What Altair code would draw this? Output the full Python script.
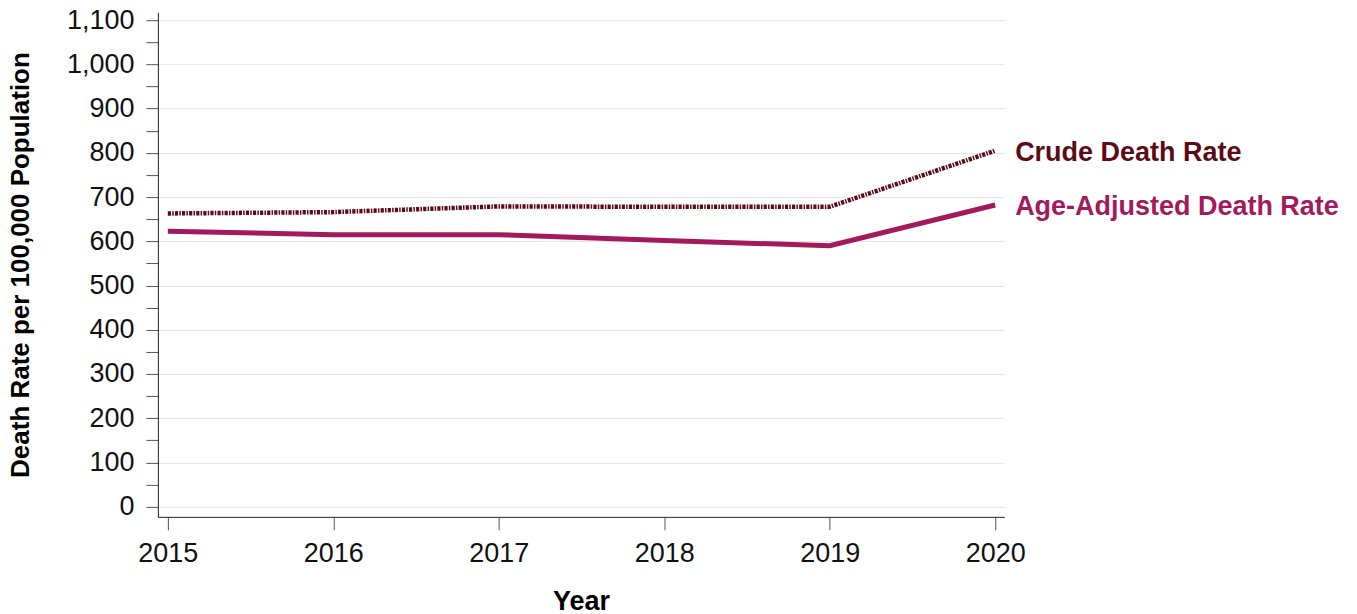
import altair as alt
import pandas as pd

years = [2015, 2016, 2017, 2018, 2019, 2020]
crude_rate = [663, 666, 679, 678, 678, 805]
age_adjusted_rate = [623, 615, 615, 602, 590, 682]
series_names = ["Crude Death Rate", "Age-Adjusted Death Rate"]
series_colors = ["#5c0b16", "#a3195b"]
y_tick_values = list(range(0, 1101, 50))

rows = []
for name, vals in zip(series_names, [crude_rate, age_adjusted_rate]):
    for yr, v in zip(years, vals):
        rows.append({"Year": yr, "Rate": v, "Series": name})
df = pd.DataFrame(rows)

color = alt.Color("Series:N", scale=alt.Scale(domain=series_names, range=series_colors), legend=None)

x = alt.X(
    "Year:Q",
    scale=alt.Scale(domain=[2014.94, 2020.055], nice=False, zero=False),
    axis=alt.Axis(
        values=years, format="d", title="Year", grid=False,
        labelFontSize=27, titleFontSize=27, titleFontWeight="bold",
        tickSize=13, labelPadding=11, titlePadding=22,
        domainColor="#222222", tickColor="#555555", labelColor="#111111",
        labelFlush=False,
    ),
)
y = alt.Y(
    "Rate:Q",
    scale=alt.Scale(domain=[-23, 1118], nice=False),
    axis=alt.Axis(
        values=y_tick_values,
        labelExpr="datum.value % 100 == 0 ? format(datum.value, ',') : ''",
        title="Death Rate per 100,000 Population",
        labelFontSize=27, titleFontSize=26, titleFontWeight="bold",
        tickSize=12,
        labelPadding=12, titlePadding=33,
        grid=True,
        gridColor="#e3e3e3",
        gridOpacity={"condition": {"test": "datum.value % 100 == 0", "value": 1}, "value": 0},
        domainColor="#222222", tickColor="#555555", labelColor="#111111",
    ),
)

base = alt.Chart(df)

crude_line = base.transform_filter(alt.datum.Series == series_names[0]).mark_line(
    strokeWidth=4.5, strokeDash=[3.2, 1.2, 1.5, 1.2]
).encode(x=x, y=y, color=color)

age_line = base.transform_filter(alt.datum.Series == series_names[1]).mark_line(
    strokeWidth=5
).encode(x=x, y=y, color=color)

labels = base.transform_filter(alt.datum.Year == years[-1]).mark_text(
    align="left", baseline="middle", dx=20, dy=2, fontSize=27, fontWeight="bold"
).encode(x=x, y=y, color=color, text="Series:N")

chart = alt.layer(age_line, crude_line, labels).properties(
    width=847, height=505,
    autosize=alt.AutoSizeParams(type="none"),
    padding={"left": 150, "top": 4, "right": 345, "bottom": 96},
).configure(font="Liberation Sans").configure_view(stroke=None)

chart.save("out.html", embed_options={"renderer": "svg", "actions": False})
